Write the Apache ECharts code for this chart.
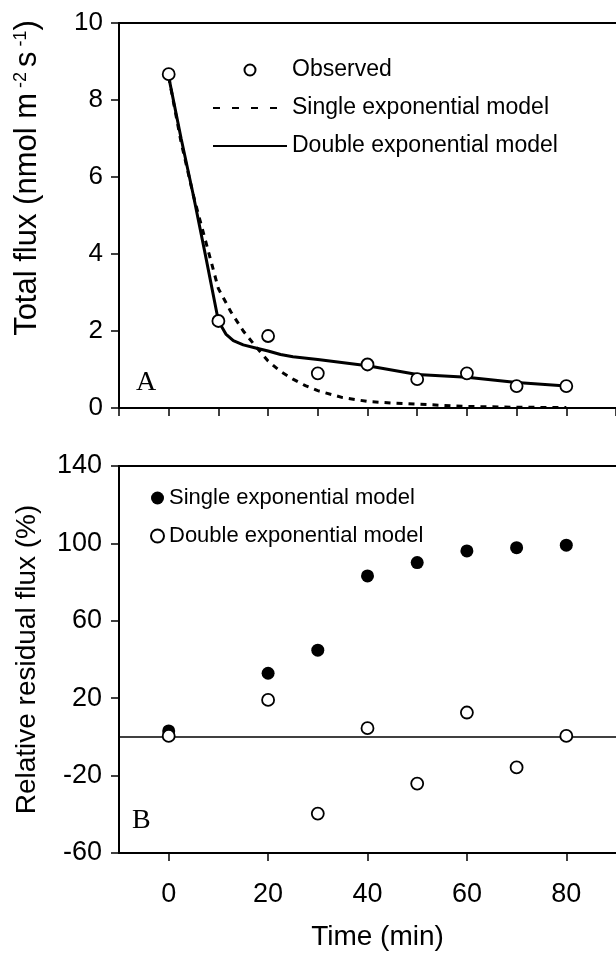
<!DOCTYPE html>
<html>
<head>
<meta charset="utf-8">
<title>flux</title>
<script src="https://cdn.jsdelivr.net/npm/echarts@6/dist/echarts.min.js"></script>
</head>
<body style="margin:0;background:#fff;">
<div id="main" style="width:616px;height:957px;"></div>
<script>
// panel A: observed flux and the two model fits
var times = [0, 10, 20, 30, 40, 50, 60, 70, 80];
var observed = [8.67, 2.26, 1.87, 0.90, 1.13, 0.75, 0.90, 0.57, 0.57];

var singleT = [0, 2.5, 5, 7.5, 10, 12.5, 15, 17.5, 20, 22.5, 25, 27.5, 30, 35, 40, 45, 50, 55, 60, 70, 80];
var singleFit = [8.6, 6.9, 5.5, 4.3, 3.1, 2.5, 2.0, 1.6, 1.22, 0.95, 0.75, 0.58, 0.45, 0.27, 0.17, 0.13, 0.1, 0.07, 0.04, 0.02, 0.01];

var doubleT = [0, 2.5, 5, 7.5, 10, 11.5, 13, 15, 17.5, 20, 22.5, 25, 30, 40, 50, 60, 70, 80];
var doubleFit = [8.6, 7.0, 5.5, 3.9, 2.26, 1.92, 1.75, 1.64, 1.56, 1.48, 1.39, 1.33, 1.26, 1.1, 0.87, 0.8, 0.66, 0.57];

// panel B: relative residuals (%)
var resTimes = [0, 20, 30, 40, 50, 60, 70, 80];
var resSingle = [3.1, 32.9, 44.8, 83.2, 90.1, 96.1, 97.8, 99.1];
var resDouble = [0.5, 19.1, -39.6, 4.5, -24.1, 12.6, -15.8, 0.5];

var resTicks = [-60, -20, 20, 60, 100, 140];
var timeTicks = [0, 20, 40, 60, 80];

function pairs(xs, ys) {
    return xs.map(function (x, i) { return [x, ys[i]]; });
}

var myChart = echarts.init(document.getElementById('main'));

var axisLineStyle = { show: true, onZero: false, lineStyle: { color: '#000', width: 2 } };
var tickStyle = { show: true, inside: false, length: 8, lineStyle: { color: '#000', width: 1.5 } };
var font = 'Liberation Sans';

var option = {
    animation: false,
    backgroundColor: '#fff',
    textStyle: { fontFamily: font, color: '#000' },
    grid: [
        { left: 119, right: -6, top: 23, height: 385 },
        { left: 119, right: -6, top: 466, height: 387 }
    ],
    legend: [
        {
            orient: 'vertical', left: 207, top: 52,
            itemWidth: 74, itemHeight: 11, itemGap: 12,
            selectedMode: false,
            textStyle: { fontSize: 23, lineHeight: 26, color: '#000', fontFamily: font },
            data: [
                'Observed',
                { name: 'Single exponential model', itemStyle: { opacity: 0 }, lineStyle: { type: [7, 12] } },
                { name: 'Double exponential model', itemStyle: { opacity: 0 } }
            ]
        },
        {
            orient: 'vertical', left: 145, top: 480,
            itemWidth: 13, itemHeight: 13, itemGap: 12,
            selectedMode: false,
            textStyle: { fontSize: 22, lineHeight: 26, color: '#000', fontFamily: font },
            formatter: function (name) { return name.replace('Residual: ', ''); },
            data: ['Residual: Single exponential model', 'Residual: Double exponential model']
        }
    ],
    xAxis: [
        {
            gridIndex: 0, type: 'value', position: 'bottom', min: -10, max: 90, interval: 10,
            axisLine: axisLineStyle, axisTick: tickStyle, axisLabel: { show: false }, splitLine: { show: false }
        },
        {
            gridIndex: 0, type: 'value', position: 'top', min: -10, max: 90,
            axisLine: axisLineStyle, axisTick: { show: false }, axisLabel: { show: false }, splitLine: { show: false }
        },
        {
            gridIndex: 1, type: 'value', position: 'bottom', min: -10, max: 90,
            axisLine: axisLineStyle,
            axisTick: { show: true, inside: false, length: 8, lineStyle: { color: '#000', width: 1.5 }, customValues: timeTicks },
            axisLabel: { customValues: timeTicks, fontSize: 27, margin: 28, color: '#000', fontFamily: font },
            splitLine: { show: false },
            name: 'Time (min)', nameLocation: 'middle', nameGap: 70,
            nameTextStyle: { fontSize: 28, color: '#000', fontFamily: font, padding: [0, 0, 0, 20] }
        },
        {
            gridIndex: 1, type: 'value', position: 'top', min: -10, max: 90,
            axisLine: axisLineStyle, axisTick: { show: false }, axisLabel: { show: false }, splitLine: { show: false }
        }
    ],
    yAxis: [
        {
            gridIndex: 0, type: 'value', min: 0, max: 10, interval: 2,
            axisLine: axisLineStyle,
            axisTick: tickStyle,
            axisLabel: { fontSize: 26, margin: 16, color: '#000', fontFamily: font },
            splitLine: { show: false },
            name: '{n|Total flux (nmol m}{s| -2 }{n|s}{s| -1}{n|)}',
            nameLocation: 'middle', nameRotate: 90, nameGap: 76,
            nameTextStyle: {
                fontSize: 31, color: '#000', fontFamily: font, padding: [0, 0, 0, 75],
                rich: {
                    n: { fontSize: 31, lineHeight: 31, fontFamily: font, color: '#000' },
                    s: { fontSize: 18, lineHeight: 18, verticalAlign: 'top', fontFamily: font, color: '#000' }
                }
            }
        },
        {
            gridIndex: 1, type: 'value', min: -60, max: 140,
            axisLine: axisLineStyle,
            axisTick: { show: true, inside: false, length: 8, lineStyle: { color: '#000', width: 1.5 }, customValues: resTicks },
            axisLabel: { customValues: resTicks, fontSize: 27, margin: 17, color: '#000', fontFamily: font },
            splitLine: { show: false },
            name: 'Relative residual flux (%)',
            nameLocation: 'middle', nameRotate: 90, nameGap: 78,
            nameTextStyle: { fontSize: 28, color: '#000', fontFamily: font }
        }
    ],
    graphic: [
        { type: 'text', left: 136, top: 369, style: { text: 'A', font: '28px "Liberation Serif"', fill: '#000' } },
        { type: 'text', left: 132, top: 807, style: { text: 'B', font: '28px "Liberation Serif"', fill: '#000' } }
    ],
    series: [
        {
            name: 'Single exponential model', type: 'line', xAxisIndex: 0, yAxisIndex: 0,
            symbol: 'none', z: 2,
            itemStyle: { color: '#000' },
            lineStyle: { color: '#000', width: 3, type: [6, 6] },
            data: pairs(singleT, singleFit)
        },
        {
            name: 'Double exponential model', type: 'line', xAxisIndex: 0, yAxisIndex: 0,
            symbol: 'none', z: 3,
            itemStyle: { color: '#000' },
            lineStyle: { color: '#000', width: 3 },
            data: pairs(doubleT, doubleFit)
        },
        {
            name: 'Observed', type: 'scatter', xAxisIndex: 0, yAxisIndex: 0,
            symbol: 'circle', symbolSize: 12, z: 5,
            itemStyle: { color: '#fff', borderColor: '#000', borderWidth: 1.8, opacity: 1 },
            data: pairs(times, observed)
        },
        {
            name: 'Residual: Single exponential model', type: 'scatter', xAxisIndex: 2, yAxisIndex: 1,
            symbol: 'circle', symbolSize: 13, z: 4,
            itemStyle: { color: '#000', opacity: 1 },
            markLine: {
                silent: true, symbol: ['none', 'none'],
                label: { show: false },
                lineStyle: { color: '#000', width: 1.5, type: 'solid' },
                data: [{ yAxis: 0 }]
            },
            data: pairs(resTimes, resSingle)
        },
        {
            name: 'Residual: Double exponential model', type: 'scatter', xAxisIndex: 2, yAxisIndex: 1,
            symbol: 'circle', symbolSize: 12, z: 5,
            itemStyle: { color: '#fff', borderColor: '#000', borderWidth: 1.8, opacity: 1 },
            data: pairs(resTimes, resDouble)
        }
    ]
};

myChart.setOption(option);
</script>
</body>
</html>
